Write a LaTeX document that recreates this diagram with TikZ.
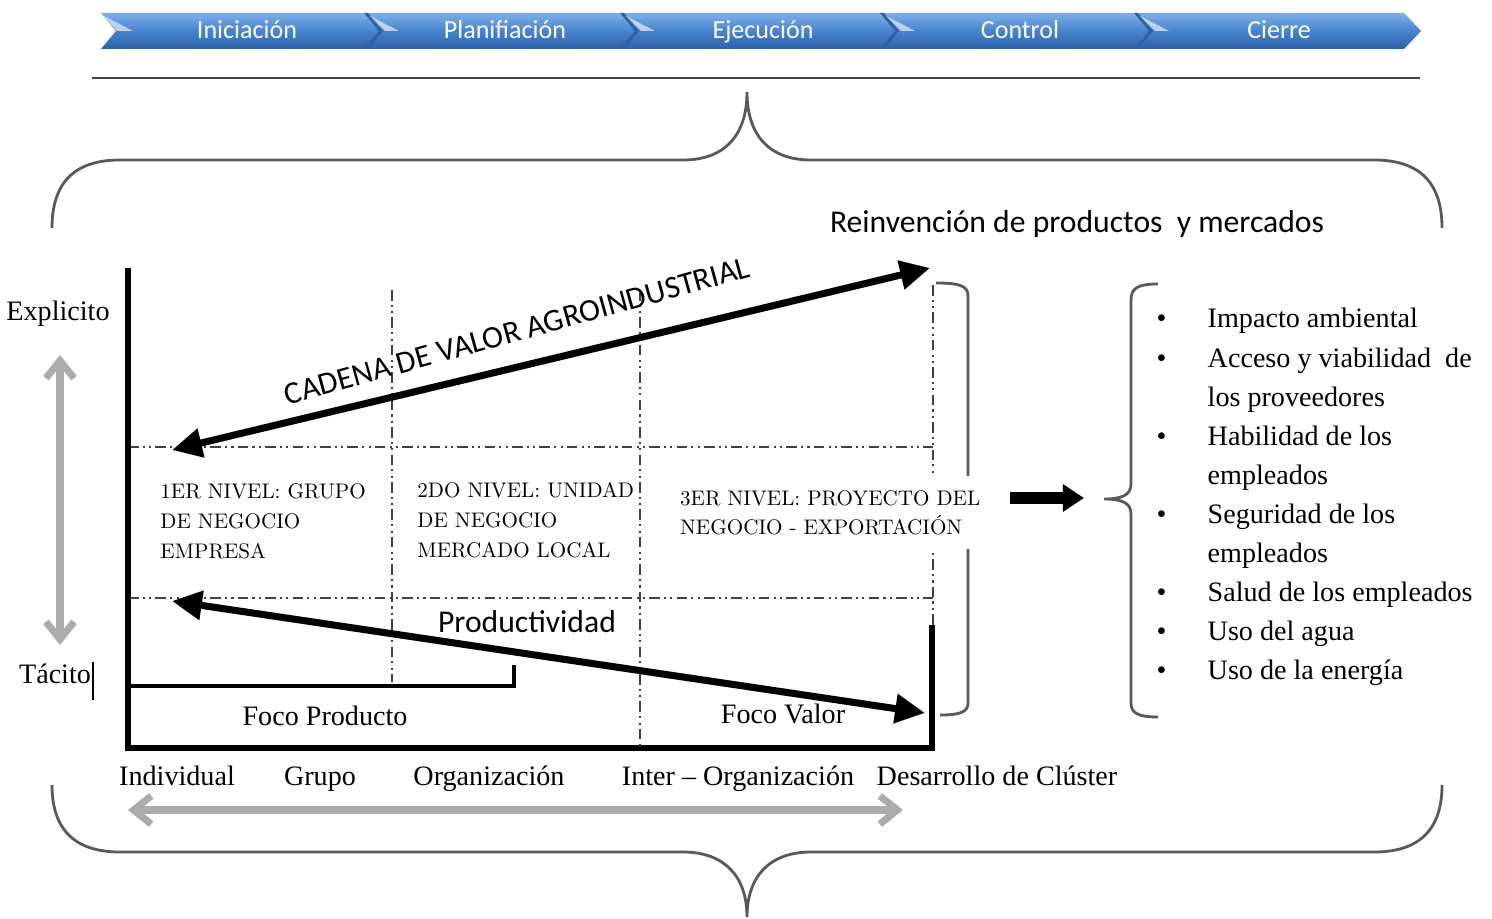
\documentclass[tikz,border=0pt]{standalone}
\usepackage{fontspec}
\newfontfamily\timesfont{Liberation Serif}
\newfontfamily\calibfont{Carlito}
\usetikzlibrary{arrows.meta}
\definecolor{barlight}{HTML}{7DB0E8}
\definecolor{barmid}{HTML}{4683CE}
\definecolor{bardark}{HTML}{2C62A6}
\tikzset{
  phase/.style={font=\calibfont\fontsize{7.4}{9}\selectfont, text=white, inner sep=0pt, anchor=base},
  curly/.style={line width=0.8pt, black!65},
  dashdot/.style={draw=black!75, line width=0.6pt, dash pattern=on 3pt off 1.2pt on 0.6pt off 1.2pt on 0.6pt off 1.2pt},
  axis/.style={line width=1.6pt},
  bigarrow/.style={line width=2pt, <->, >={Triangle[length=8.5pt,width=8pt]}},
  grayarrow/.style={line width=2pt, draw=black!33, <->, >={Straight Barb[length=5pt,width=8pt]}},
  serif/.style={font=\timesfont\fontsize{8}{11.1}\selectfont, inner sep=0pt},
  sans/.style={font=\calibfont\fontsize{9}{11}\selectfont, inner sep=0pt},
  level/.style={font=\fontsize{10}{14.2}\selectfont, scale=0.6, transform shape, align=left, anchor=north west, inner sep=0pt},
}
\begin{document}
\begin{tikzpicture}[x=0.01cm, y=-0.01cm]
    \useasboundingbox (0,0) rectangle (1492,919);

    % barra de fases
    \shade[top color=barlight, bottom color=bardark, middle color=barmid]
        (101,13) -- (1404,13) -- (1421,31) -- (1404,49) -- (101,49) -- (116,31) -- cycle;
    \fill[bardark] (364,13) -- (368,13) -- (383,31) -- (368,49) -- (364,49) -- (379,31) -- cycle;
    \fill[bardark] (620,13) -- (624,13) -- (639,31) -- (624,49) -- (620,49) -- (635,31) -- cycle;
    \fill[bardark] (880,13) -- (884,13) -- (899,31) -- (884,49) -- (880,49) -- (895,31) -- cycle;
    \fill[bardark] (1134,13) -- (1138,13) -- (1153,31) -- (1138,49) -- (1134,49) -- (1149,31) -- cycle;
    \fill[white, opacity=.6] (104,16) -- (133,31) -- (117,31) -- cycle;
    \fill[white, opacity=.6] (370,16) -- (399,31) -- (385,31) -- cycle;
    \fill[white, opacity=.6] (626,16) -- (655,31) -- (641,31) -- cycle;
    \fill[white, opacity=.6] (886,16) -- (915,31) -- (901,31) -- cycle;
    \fill[white, opacity=.6] (1140,16) -- (1169,31) -- (1155,31) -- cycle;

    \node[phase] (INI) at (247,39) {Iniciación};
    \node[phase] (PLA) at (505,39) {Planifiación};
    \node[phase] (EJE) at (763,39) {Ejecución};
    \node[phase] (CON) at (1020,39) {Control};
    \node[phase] (CIE) at (1279,39) {Cierre};

    \draw[line width=0.6pt, black!75] (92,78) -- (1420,78);

    % llaves
    \draw[curly] (52,228) .. controls (52,182) and (75,160) .. (120,160) -- (683,160)
        .. controls (725,160) and (747,135) .. (747,92) .. controls (747,135) and (769,160) .. (811,160)
        -- (1374,160) .. controls (1419,160) and (1442,182) .. (1442,228);
    \draw[curly] (52,785) .. controls (52,830) and (75,852) .. (120,852) -- (683,852)
        .. controls (725,852) and (747,877) .. (747,917) .. controls (747,877) and (769,852) .. (811,852)
        -- (1374,852) .. controls (1419,852) and (1442,830) .. (1442,785);

    \node[sans] (REI) at (1077,224) {Reinvención de productos\ \ y mercados};

    % cuadricula
    \draw[dashdot] (128,447) -- (933,447);
    \draw[dashdot] (128,598) -- (933,598);
    \draw[dashdot] (392,290) -- (392,682);
    \draw[dashdot] (640,290) -- (640,745);
    \draw[dashdot] (933,285) -- (933,745);

    \draw[curly] (936,283) .. controls (960,283) and (968,286) .. (968,296) -- (968,703)
        .. controls (968,712) and (960,715) .. (940,715);

    % ejes
    \coordinate (YT) at (128,268);
    \coordinate (OR) at (128,748);
    \coordinate (XE) at (932,748);
    \coordinate (XT) at (932,625);
    \draw[axis] (YT) -- (OR) -- (XE) -- (XT);
    \draw[line width=1.2pt] (128,686) -- (514,686) -- (514,665);

    \node[level] (N1) at (160,483) {1ER NIVEL:\ GRUPO\\DE NEGOCIO\\EMPRESA};
    \node[level] (N2) at (417,482) {2DO NIVEL:\ UNIDAD\\DE NEGOCIO\\MERCADO\ LOCAL};
    \node[level, fill=white, inner sep=6.5pt] (N3) at (666,476) {3ER NIVEL:\ PROYECTO DEL\\NEGOCIO - EXPORTACIÓN};

    % flechas
    \coordinate (CVa) at (172,450);
    \coordinate (CVb) at (930,268);
    \draw[bigarrow] (CVa) -- (CVb);
    \node[sans, rotate=15.5] (CVA) at (517,331) {CADENA DE VALOR AGROINDUSTRIAL};

    \coordinate (PRa) at (172,601);
    \coordinate (PRb) at (925,713);
    \draw[bigarrow] (PRa) -- (PRb);
    \node[sans] (PRD) at (527,622) {Productividad};

    \node[serif, anchor=base] (FP) at (325,725) {Foco Producto};
    \node[serif, anchor=base] (FV) at (783,723) {Foco Valor};

    % eje vertical
    \node[serif] (EXP) at (58,314) {Explicito};
    \node[serif] (TAC) at (55,674) {Tácito};
    \draw[line width=0.8pt] (93,662) -- (93,700);
    \coordinate (GVa) at (60,355);
    \coordinate (GVb) at (60,645);
    \draw[grayarrow] (GVa) -- (GVb);

    % eje horizontal
    \node[serif, anchor=base] (IND) at (177,785) {Individual};
    \node[serif, anchor=base] (GRP) at (320,785) {Grupo};
    \node[serif, anchor=base] (ORG) at (489,785) {Organización};
    \node[serif, anchor=base] (IOR) at (738,785) {Inter – Organización};
    \node[serif, anchor=base] (DCL) at (997,785) {Desarrollo de Clúster};
    \coordinate (GHa) at (128,810);
    \coordinate (GHb) at (903,810);
    \draw[grayarrow] (GHa) -- (GHb);

    % lista
    \coordinate (ARa) at (1010,498);
    \coordinate (ARb) at (1084,498);
    \draw[line width=3.4pt, -{Triangle[length=6pt,width=7.5pt]}] (ARa) -- (ARb);
    \draw[curly] (1158,284) .. controls (1138,284) and (1131,288) .. (1131,300) -- (1131,484)
        .. controls (1131,495) and (1122,499) .. (1104,499) .. controls (1122,499) and (1131,503) .. (1131,514)
        -- (1131,703) .. controls (1131,713) and (1138,717) .. (1158,717);
    \node[serif, anchor=base west] (LST) at (1156,328) {%
        \begin{tabular}[t]{@{}p{14.5pt}@{}l@{}}
        • & Impacto ambiental\\
        • & Acceso y viabilidad\ \ de\\
          & los proveedores\\
        • & Habilidad de los\\
          & empleados\\
        • & Seguridad de los\\
          & empleados\\
        • & Salud de los empleados\\
        • & Uso del agua\\
        • & Uso de la energía
        \end{tabular}};
\end{tikzpicture}
\end{document}
